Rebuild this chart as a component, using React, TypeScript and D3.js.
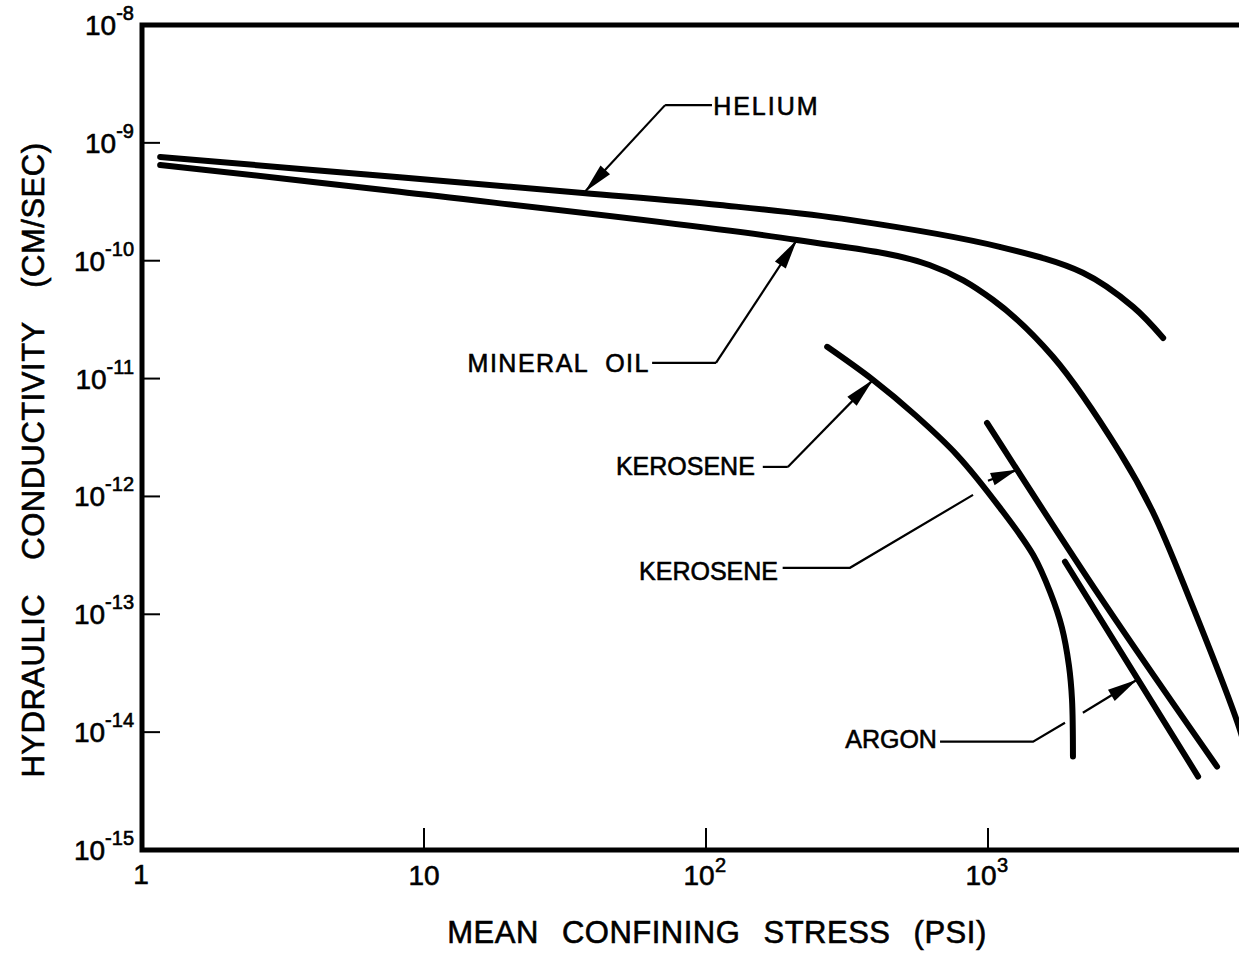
import { useEffect, useRef } from 'react'
import * as d3 from 'd3'

type Pt = [number, number]

const W = 1239
const H = 957

// decade exponents on each axis
const xTickExps = [0, 1, 2, 3]
const yTickExps = [-15, -14, -13, -12, -11, -10, -9, -8]

// curves: [mean confining stress (psi), hydraulic conductivity (cm/sec)]
const helium: Pt[] = [
  [1.16, 7.6e-10], [8.2, 5.1e-10], [36.6, 3.76e-10], [112, 2.97e-10], [324, 2.22e-10],
  [1100, 1.31e-10], [2170, 7.9e-11], [3270, 4.06e-11], [4180, 2.21e-11],
]
const mineralOil: Pt[] = [
  [1.16, 6.5e-10], [8.2, 3.84e-10], [210, 1.5e-10], [620, 9.2e-11],
  [1040, 4.66e-11], [1700, 1.53e-11], [2940, 2.34e-12], [3850, 7.3e-13], [5200, 1.33e-13],
  [7760, 1.11e-14], [8100, 7.8e-15],
]
const keroseneA: Pt[] = [
  [269, 1.86e-11], [391, 9.75e-12], [551, 4.92e-12], [776, 2.25e-12], [1103, 8.0e-13],
  [1445, 3.2e-13], [1660, 1.55e-13], [1829, 7.7e-14], [1937, 3.66e-14], [1986, 1.88e-14],
  [2001, 6.2e-15],
]
const keroseneB: Pt[] = [[992, 4.2e-12], [2495, 1.41e-13], [6490, 5.1e-15]]
const argon: Pt[] = [[1875, 2.79e-13], [5560, 4.2e-15]]

const series = [helium, mineralOil, keroseneA, keroseneB, argon]

// callouts, in data units: label baseline, plain leader, and the arrowed pointer
interface Note { text: string; at: Pt; align: 'start' | 'end'; spacing: number; leader: Pt[]; pointer: Pt[] }
const notes: Note[] = [
  { text: 'HELIUM', at: [106, 1.73e-9], align: 'start', spacing: 2,
    leader: [[105, 2.09e-9], [71.6, 2.09e-9]], pointer: [[71.6, 2.09e-9], [37.2, 3.84e-10]] },
  { text: 'MINERAL  OIL', at: [63.3, 1.14e-11], align: 'end', spacing: 1.5,
    leader: [[64.4, 1.36e-11], [108.5, 1.36e-11]], pointer: [[108.5, 1.36e-11], [210, 1.5e-10]] },
  { text: 'KEROSENE', at: [149, 1.52e-12], align: 'end', spacing: 0,
    leader: [[159, 1.78e-12], [195, 1.78e-12]], pointer: [[195, 1.78e-12], [391, 9.75e-12]] },
  { text: 'KEROSENE', at: [180, 1.96e-13], align: 'end', spacing: 0,
    leader: [[187, 2.48e-13], [324, 2.48e-13], [885, 1.03e-12]], pointer: [[1000, 1.36e-12], [1267, 1.68e-12]] },
  { text: 'ARGON', at: [659, 7.4e-15], align: 'end', spacing: 0,
    leader: [[676, 8.3e-15], [1445, 8.3e-15], [1875, 1.2e-14]], pointer: [[2170, 1.46e-14], [3375, 2.78e-14]] },
]

const FONT = '"Liberation Sans", Arial, sans-serif'

export default function App() {
  const svgRef = useRef<SVGSVGElement>(null)

  useEffect(() => {
    if (!svgRef.current) return
    const svg = d3.select(svgRef.current)
    svg.selectAll('*').remove()

    const x = d3.scaleLog().domain([1, 1e4]).range([142, 142 + 4 * 282])
    const y = d3.scaleLog().domain([1e-15, 1e-8]).range([850, 25])
    const px = (p: Pt): Pt => [x(p[0]), y(p[1])]

    // text gets a thin stroke so it reads as heavy as the hand lettering
    const g = svg.append('g').attr('font-family', FONT).attr('fill', '#000')
    const txt = g.append('g').attr('stroke', '#000').attr('stroke-width', 0.6)

    // frame: left, bottom, top
    const x0 = x(1), xEnd = x(1e4)
    g.append('path')
      .attr('d', `M${xEnd},${y(1e-8)} L${x0},${y(1e-8)} L${x0},${y(1e-15)} L${xEnd},${y(1e-15)}`)
      .attr('fill', 'none').attr('stroke', '#000').attr('stroke-width', 5)

    // y ticks + labels
    yTickExps.forEach((e) => {
      const yy = y(Math.pow(10, e))
      if (e > -15 && e < -8) {
        g.append('line').attr('x1', x0).attr('x2', x0 + 18).attr('y1', yy).attr('y2', yy)
          .attr('stroke', '#000').attr('stroke-width', 2)
      }
      const t = txt.append('text').attr('x', 134).attr('y', yy + 10).attr('text-anchor', 'end')
        .attr('font-size', 28)
      t.append('tspan').text('10')
      t.append('tspan').attr('dy', -15).attr('font-size', 20).text(`-${-e}`)
    })

    // x ticks + labels
    xTickExps.forEach((e) => {
      const xx = x(Math.pow(10, e))
      if (e > 0) {
        g.append('line').attr('x1', xx).attr('x2', xx).attr('y1', 850).attr('y2', 828)
          .attr('stroke', '#000').attr('stroke-width', 2)
      }
      if (e === 0) {
        txt.append('text').attr('x', xx - 1).attr('y', 884).attr('text-anchor', 'middle').attr('font-size', 28).text('1')
      } else {
        const cx = e > 1 ? xx - 7 : xx
        txt.append('text').attr('x', cx).attr('y', 885).attr('text-anchor', 'middle').attr('font-size', 28).text('10')
        if (e > 1) {
          txt.append('text').attr('x', cx + 16).attr('y', 872).attr('font-size', 20).text(String(e))
        }
      }
    })

    // axis titles
    txt.append('text')
      .attr('x', 717).attr('y', 943).attr('text-anchor', 'middle')
      .attr('font-size', 31).attr('letter-spacing', 0.5).attr('word-spacing', 14)
      .text('MEAN CONFINING STRESS (PSI)')
    txt.append('text')
      .attr('transform', 'translate(44,460) rotate(-90)').attr('text-anchor', 'middle')
      .attr('font-size', 31).attr('letter-spacing', 0.5).attr('word-spacing', 25)
      .text('HYDRAULIC CONDUCTIVITY (CM/SEC)')

    // curves
    const line = d3.line<Pt>().x((d) => x(d[0])).y((d) => y(d[1])).curve(d3.curveCatmullRom.alpha(0.5))
    g.selectAll('path.curve').data(series).join('path')
      .attr('class', 'curve')
      .attr('d', line)
      .attr('fill', 'none').attr('stroke', '#000').attr('stroke-width', 6)
      .attr('stroke-linecap', 'round').attr('stroke-linejoin', 'round')

    // callouts
    const straight = d3.line<Pt>()
    notes.forEach((n) => {
      txt.append('text').attr('x', x(n.at[0])).attr('y', y(n.at[1]))
        .attr('text-anchor', n.align).attr('font-size', 25).attr('letter-spacing', n.spacing)
        .style('white-space', 'pre')
        .text(n.text)
      g.append('path').attr('d', straight(n.leader.map(px)))
        .attr('fill', 'none').attr('stroke', '#000').attr('stroke-width', 2.2)
      const pts = n.pointer.map(px)
      const [a, b] = [pts[pts.length - 2], pts[pts.length - 1]]
      const len = Math.hypot(b[0] - a[0], b[1] - a[1])
      const ux = (b[0] - a[0]) / len, uy = (b[1] - a[1]) / len
      const L = Math.min(30, len * 0.85), w = 6.5
      const bx = b[0] - ux * L, by = b[1] - uy * L
      g.append('path').attr('d', straight(pts))
        .attr('fill', 'none').attr('stroke', '#000').attr('stroke-width', 2.2)
      g.append('path')
        .attr('d', `M${b[0]},${b[1]} L${bx - uy * w},${by + ux * w} L${bx + uy * w},${by - ux * w} Z`)
        .attr('fill', '#000')
    })
  }, [])

  return (
    <div style={{ position: 'absolute', left: 0, top: 0, width: W, height: H, overflow: 'hidden', background: '#fff' }}>
      <svg ref={svgRef} width={W} height={H} />
    </div>
  )
}
